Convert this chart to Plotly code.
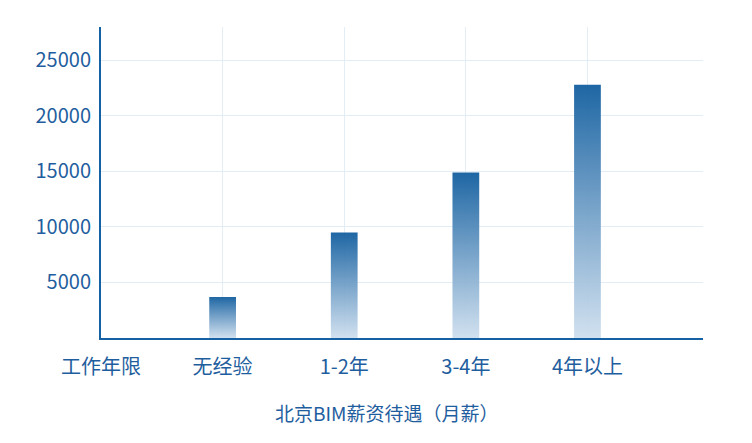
import plotly.graph_objects as go

categories = ["工作年限", "无经验", "1-2年", "3-4年", "4年以上"]
bar_categories = ["无经验", "1-2年", "3-4年", "4年以上"]
salary = [3700, 9500, 14900, 22800]
y_ticks = [5000, 10000, 15000, 20000, 25000]
title_text = "北京BIM薪资待遇（月薪）"

TEXT = "#1f5e9e"
AXIS = "#1661a3"
GRID = "#e3edf6"
FONT = "Noto Sans CJK SC, sans-serif"
BAR_W = 0.22

fig = go.Figure()
for cat, v in zip(bar_categories, salary):
    i = categories.index(cat)
    fig.add_trace(go.Scatter(
        x=[i - BAR_W / 2, i - BAR_W / 2, i + BAR_W / 2, i + BAR_W / 2, i - BAR_W / 2],
        y=[0, v, v, 0, 0],
        mode="lines",
        line=dict(width=0),
        fill="toself",
        fillgradient=dict(type="vertical",
                          colorscale=[[0, "rgba(205,222,238,0.92)"], [1, "rgba(21,96,160,0.96)"]]),
        hoverinfo="text",
        text=f"{cat}: {v}",
        showlegend=False,
    ))

fig.update_layout(
    width=744, height=435,
    margin=dict(l=93, r=49, t=19, b=105),
    paper_bgcolor="white", plot_bgcolor="white",
    font=dict(family=FONT, color=TEXT, size=20),
    xaxis=dict(
        range=[0, 4.95], tickvals=list(range(len(categories))), ticktext=categories,
        showgrid=True, gridcolor=GRID, gridwidth=1, zeroline=False,
        showline=True, linecolor=AXIS, linewidth=2, ticks="", ticklabelstandoff=10,
        tickfont=dict(size=20, color=TEXT),
    ),
    yaxis=dict(
        range=[0, 28000], tickvals=y_ticks, ticktext=[str(t) for t in y_ticks],
        showgrid=True, gridcolor=GRID, gridwidth=1,
        zeroline=False, showline=True, linecolor=AXIS, linewidth=2, ticks="",
        tickfont=dict(size=20, color=TEXT), ticklabelstandoff=4,
    ),
    annotations=[dict(text=title_text, xref="paper", yref="paper", x=0.475, y=-0.238,
                      xanchor="center", yanchor="middle", showarrow=False,
                      font=dict(size=19, color=TEXT, family=FONT))],
)

fig.write_html("out.html")
